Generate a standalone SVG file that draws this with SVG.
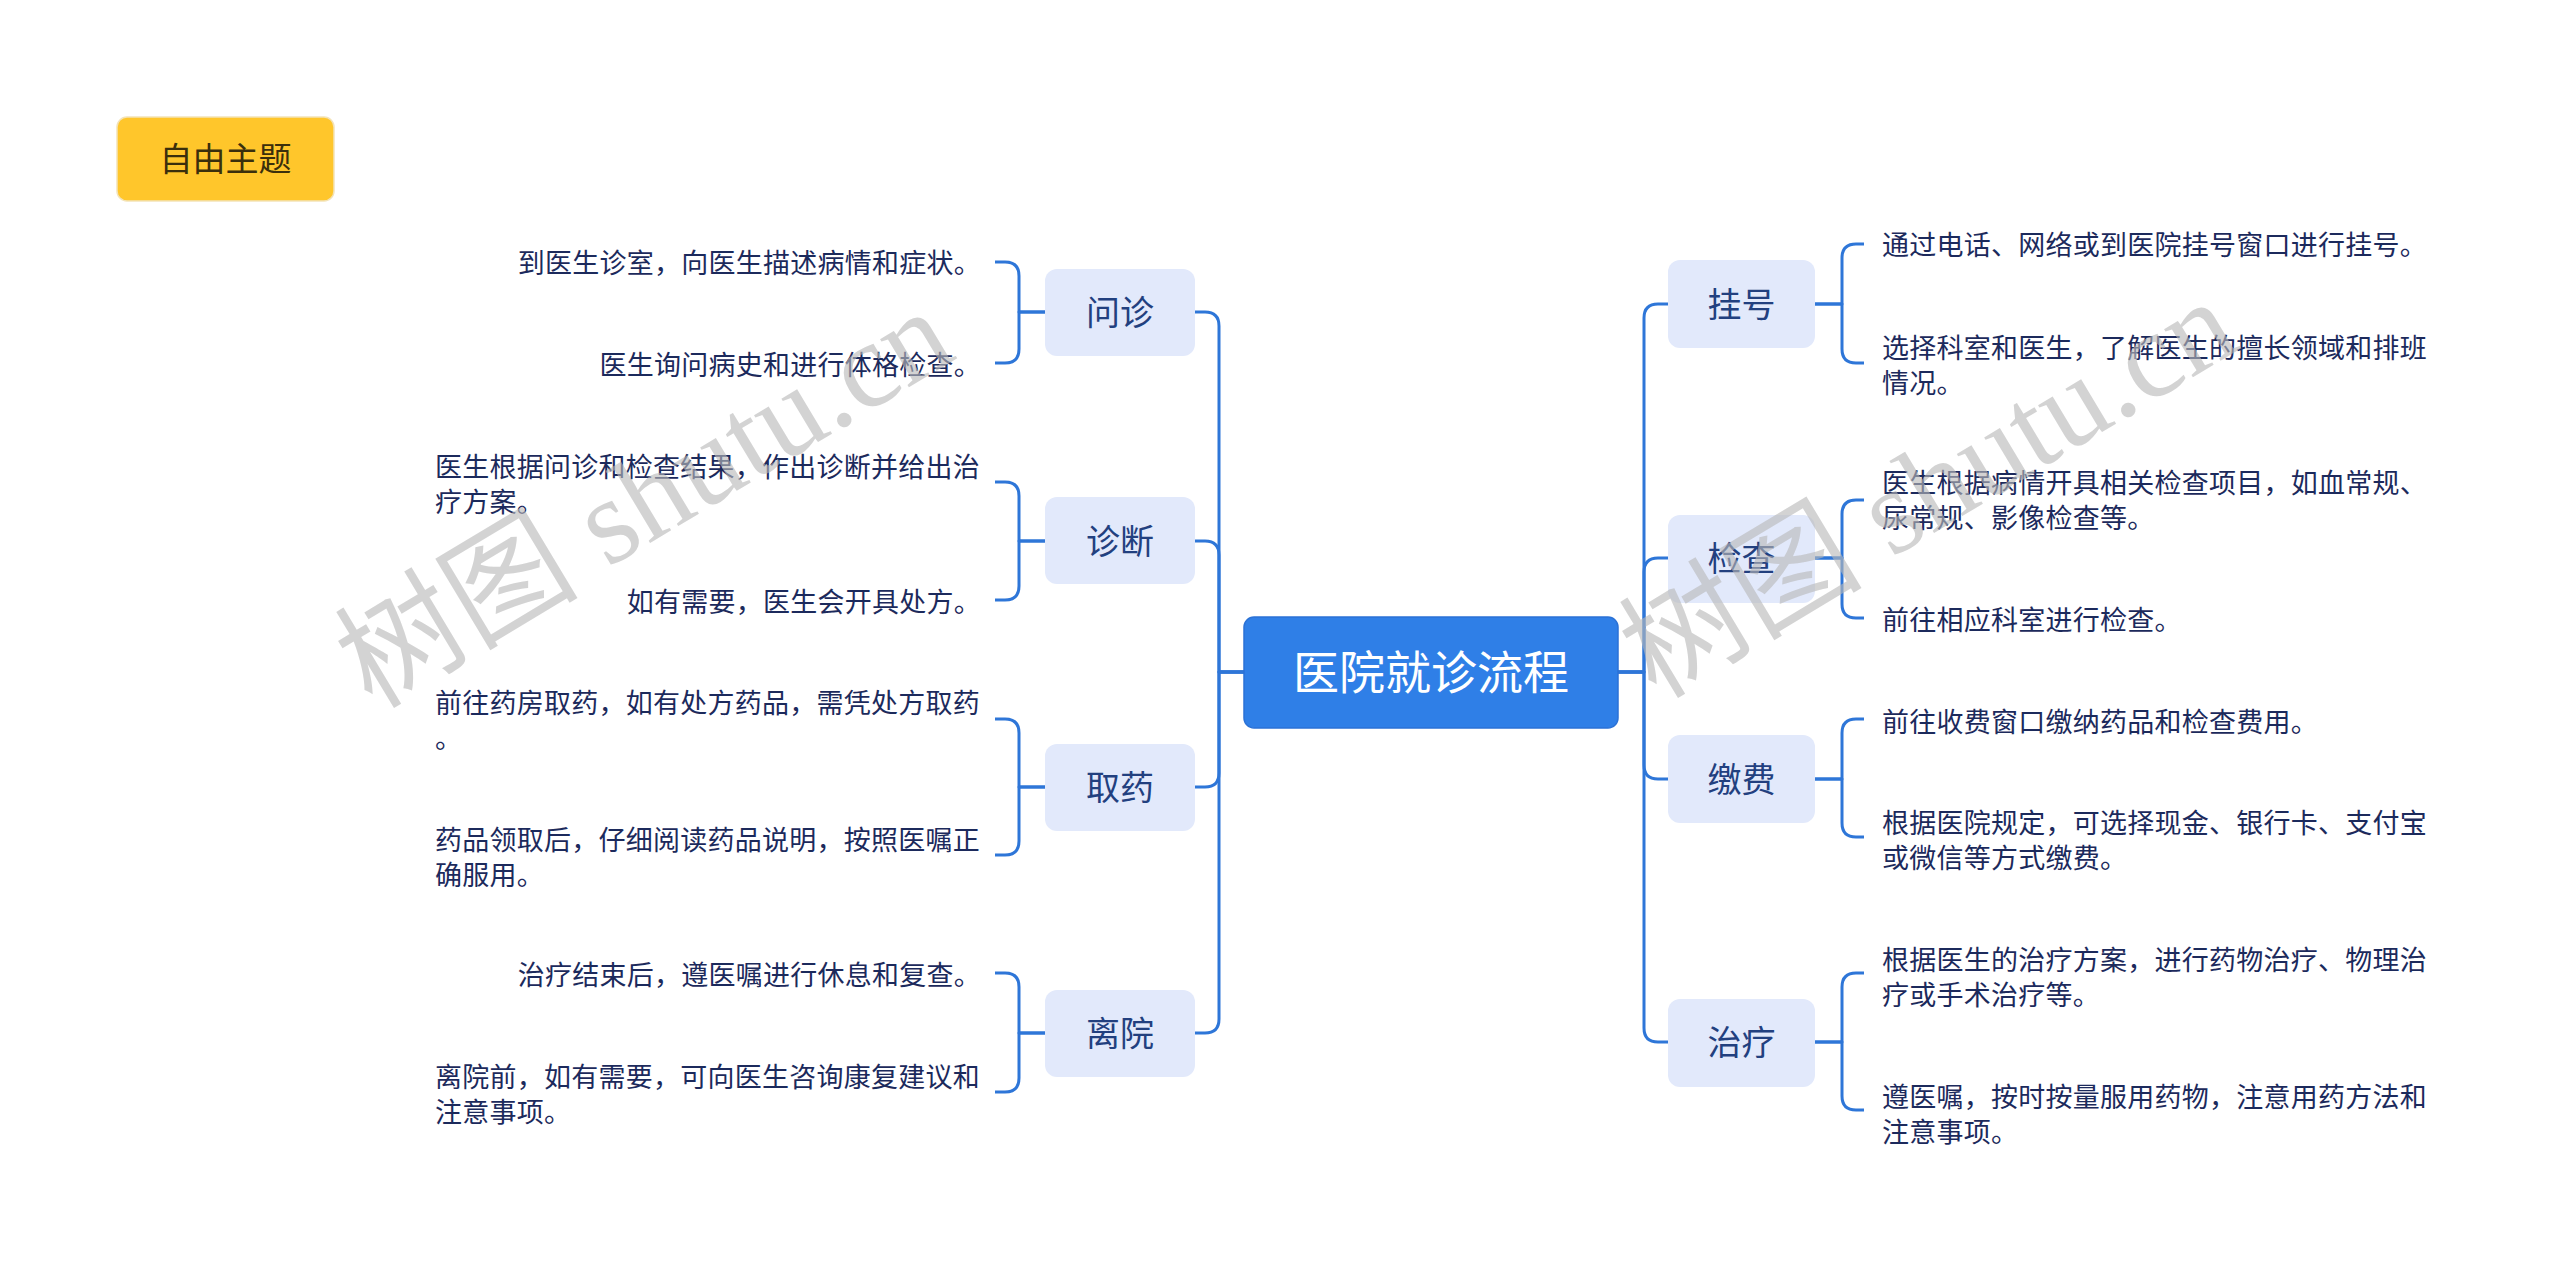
<svg xmlns="http://www.w3.org/2000/svg" width="2560" height="1274" viewBox="0 0 2560 1274">
<defs>
<style>
.bg{fill:#ffffff}
.conn{fill:none;stroke:#2e76d8;stroke-width:3;stroke-linecap:butt;stroke-linejoin:round}
.box{fill:#e2e9fb}
.lbl{font-family:"Noto Sans CJK SC","Noto Sans",sans-serif;font-size:34px;fill:#22407f;text-anchor:middle}
.leaf{font-family:"Noto Sans CJK SC","Noto Sans",sans-serif;font-size:27px;letter-spacing:0.25px;fill:#1c2a5c}
.end{text-anchor:end}
.wm{font-family:"Liberation Serif","Noto Sans CJK SC",serif;font-size:122px;fill:#b8b8b8;fill-opacity:0.62}
</style>
</defs>
<rect class="bg" x="0" y="0" width="2560" height="1274"/>

<g id="connectors">
<path class="conn" d="M1244 672 H1219 V326 Q1219 312 1205 312 H1195"/>
<path class="conn" d="M1244 672 H1219 V555 Q1219 541 1205 541 H1195"/>
<path class="conn" d="M1244 672 H1219 V773 Q1219 787 1205 787 H1195"/>
<path class="conn" d="M1244 672 H1219 V1019 Q1219 1033 1205 1033 H1195"/>
<path class="conn" d="M1618 672 H1644 V318 Q1644 304 1658 304 H1668"/>
<path class="conn" d="M1618 672 H1644 V572 Q1644 558 1658 558 H1668"/>
<path class="conn" d="M1618 672 H1644 V765 Q1644 779 1658 779 H1668"/>
<path class="conn" d="M1618 672 H1644 V1028 Q1644 1042 1658 1042 H1668"/>

<path class="conn" d="M1045 312 H1019 V276 Q1019 262 1005 262 H995"/>
<path class="conn" d="M1045 312 H1019 V349 Q1019 363 1005 363 H995"/>
<path class="conn" d="M1045 541 H1019 V496 Q1019 482 1005 482 H995"/>
<path class="conn" d="M1045 541 H1019 V586 Q1019 600 1005 600 H995"/>
<path class="conn" d="M1045 787 H1019 V733 Q1019 719 1005 719 H995"/>
<path class="conn" d="M1045 787 H1019 V841 Q1019 855 1005 855 H995"/>
<path class="conn" d="M1045 1033 H1019 V987 Q1019 973 1005 973 H995"/>
<path class="conn" d="M1045 1033 H1019 V1078 Q1019 1092 1005 1092 H995"/>

<path class="conn" d="M1815 304 H1842 V258 Q1842 244 1856 244 H1864"/>
<path class="conn" d="M1815 304 H1842 V349 Q1842 363 1856 363 H1864"/>
<path class="conn" d="M1815 558 H1842 V514 Q1842 500 1856 500 H1864"/>
<path class="conn" d="M1815 558 H1842 V604 Q1842 618 1856 618 H1864"/>
<path class="conn" d="M1815 779 H1842 V733 Q1842 719 1856 719 H1864"/>
<path class="conn" d="M1815 779 H1842 V823 Q1842 837 1856 837 H1864"/>
<path class="conn" d="M1815 1042 H1842 V987 Q1842 973 1856 973 H1864"/>
<path class="conn" d="M1815 1042 H1842 V1096 Q1842 1110 1856 1110 H1864"/>
</g>

<g id="free-topic">
<rect x="117" y="117" width="217" height="84" rx="10" fill="#ffc62b" stroke="#f3e3b8" stroke-width="1.5"/>
<text x="225.5" y="171" font-family="Noto Sans CJK SC, sans-serif" font-size="33" fill="#3b2f0c" text-anchor="middle">自由主题</text>
</g>

<g id="root">
<rect x="1244" y="617" width="374" height="111" rx="10" fill="#2f7fe7" stroke="#2b72d6" stroke-width="1.5"/>
<text x="1431" y="689" font-family="Noto Sans CJK SC, sans-serif" font-size="46" fill="#ffffff" text-anchor="middle">医院就诊流程</text>
</g>

<g id="n-wenzhen">
<rect class="box" x="1045" y="269" width="150" height="87" rx="12"/>
<text class="lbl" x="1120" y="325">问诊</text>
</g>
<g id="n-wenzhen-1"><text class="leaf end" x="981" y="273">到医生诊室，向医生描述病情和症状。</text></g>
<g id="n-wenzhen-2"><text class="leaf end" x="981" y="375">医生询问病史和进行体格检查。</text></g>

<g id="n-zhenduan">
<rect class="box" x="1045" y="497" width="150" height="87" rx="12"/>
<text class="lbl" x="1120" y="554">诊断</text>
</g>
<g id="n-zhenduan-1"><text class="leaf" x="435" y="477">医生根据问诊和检查结果，作出诊断并给出治</text><text class="leaf" x="435" y="512">疗方案。</text></g>
<g id="n-zhenduan-2"><text class="leaf end" x="981" y="612">如有需要，医生会开具处方。</text></g>

<g id="n-quyao">
<rect class="box" x="1045" y="744" width="150" height="87" rx="12"/>
<text class="lbl" x="1120" y="800">取药</text>
</g>
<g id="n-quyao-1"><text class="leaf" x="435" y="713">前往药房取药，如有处方药品，需凭处方取药</text><text class="leaf" x="435" y="748">。</text></g>
<g id="n-quyao-2"><text class="leaf" x="435" y="850">药品领取后，仔细阅读药品说明，按照医嘱正</text><text class="leaf" x="435" y="885">确服用。</text></g>

<g id="n-liyuan">
<rect class="box" x="1045" y="990" width="150" height="87" rx="12"/>
<text class="lbl" x="1120" y="1046">离院</text>
</g>
<g id="n-liyuan-1"><text class="leaf end" x="981" y="985">治疗结束后，遵医嘱进行休息和复查。</text></g>
<g id="n-liyuan-2"><text class="leaf" x="435" y="1087">离院前，如有需要，可向医生咨询康复建议和</text><text class="leaf" x="435" y="1122">注意事项。</text></g>

<g id="n-guahao">
<rect class="box" x="1668" y="260" width="147" height="88" rx="12"/>
<text class="lbl" x="1741.5" y="317">挂号</text>
</g>
<g id="n-guahao-1"><text class="leaf" x="1882" y="255">通过电话、网络或到医院挂号窗口进行挂号。</text></g>
<g id="n-guahao-2"><text class="leaf" x="1882" y="358">选择科室和医生，了解医生的擅长领域和排班</text><text class="leaf" x="1882" y="393">情况。</text></g>

<g id="n-jiancha">
<rect class="box" x="1668" y="515" width="147" height="88" rx="12"/>
<text class="lbl" x="1741.5" y="571">检查</text>
</g>
<g id="n-jiancha-1"><text class="leaf" x="1882" y="493">医生根据病情开具相关检查项目，如血常规、</text><text class="leaf" x="1882" y="528">尿常规、影像检查等。</text></g>
<g id="n-jiancha-2"><text class="leaf" x="1882" y="630">前往相应科室进行检查。</text></g>

<g id="n-jiaofei">
<rect class="box" x="1668" y="735" width="147" height="88" rx="12"/>
<text class="lbl" x="1741.5" y="792">缴费</text>
</g>
<g id="n-jiaofei-1"><text class="leaf" x="1882" y="732">前往收费窗口缴纳药品和检查费用。</text></g>
<g id="n-jiaofei-2"><text class="leaf" x="1882" y="833">根据医院规定，可选择现金、银行卡、支付宝</text><text class="leaf" x="1882" y="868">或微信等方式缴费。</text></g>

<g id="n-zhiliao">
<rect class="box" x="1668" y="999" width="147" height="88" rx="12"/>
<text class="lbl" x="1741.5" y="1055">治疗</text>
</g>
<g id="n-zhiliao-1"><text class="leaf" x="1882" y="970">根据医生的治疗方案，进行药物治疗、物理治</text><text class="leaf" x="1882" y="1005">疗或手术治疗等。</text></g>
<g id="n-zhiliao-2"><text class="leaf" x="1882" y="1107">遵医嘱，按时按量服用药物，注意用药方法和</text><text class="leaf" x="1882" y="1142">注意事项。</text></g>

<g id="watermarks">
<text class="wm" x="372" y="710" transform="rotate(-31 372 710)">树图 shutu.cn</text>
<text class="wm" x="1656" y="700" transform="rotate(-31 1656 700)">树图 shutu.cn</text>
</g>
</svg>
